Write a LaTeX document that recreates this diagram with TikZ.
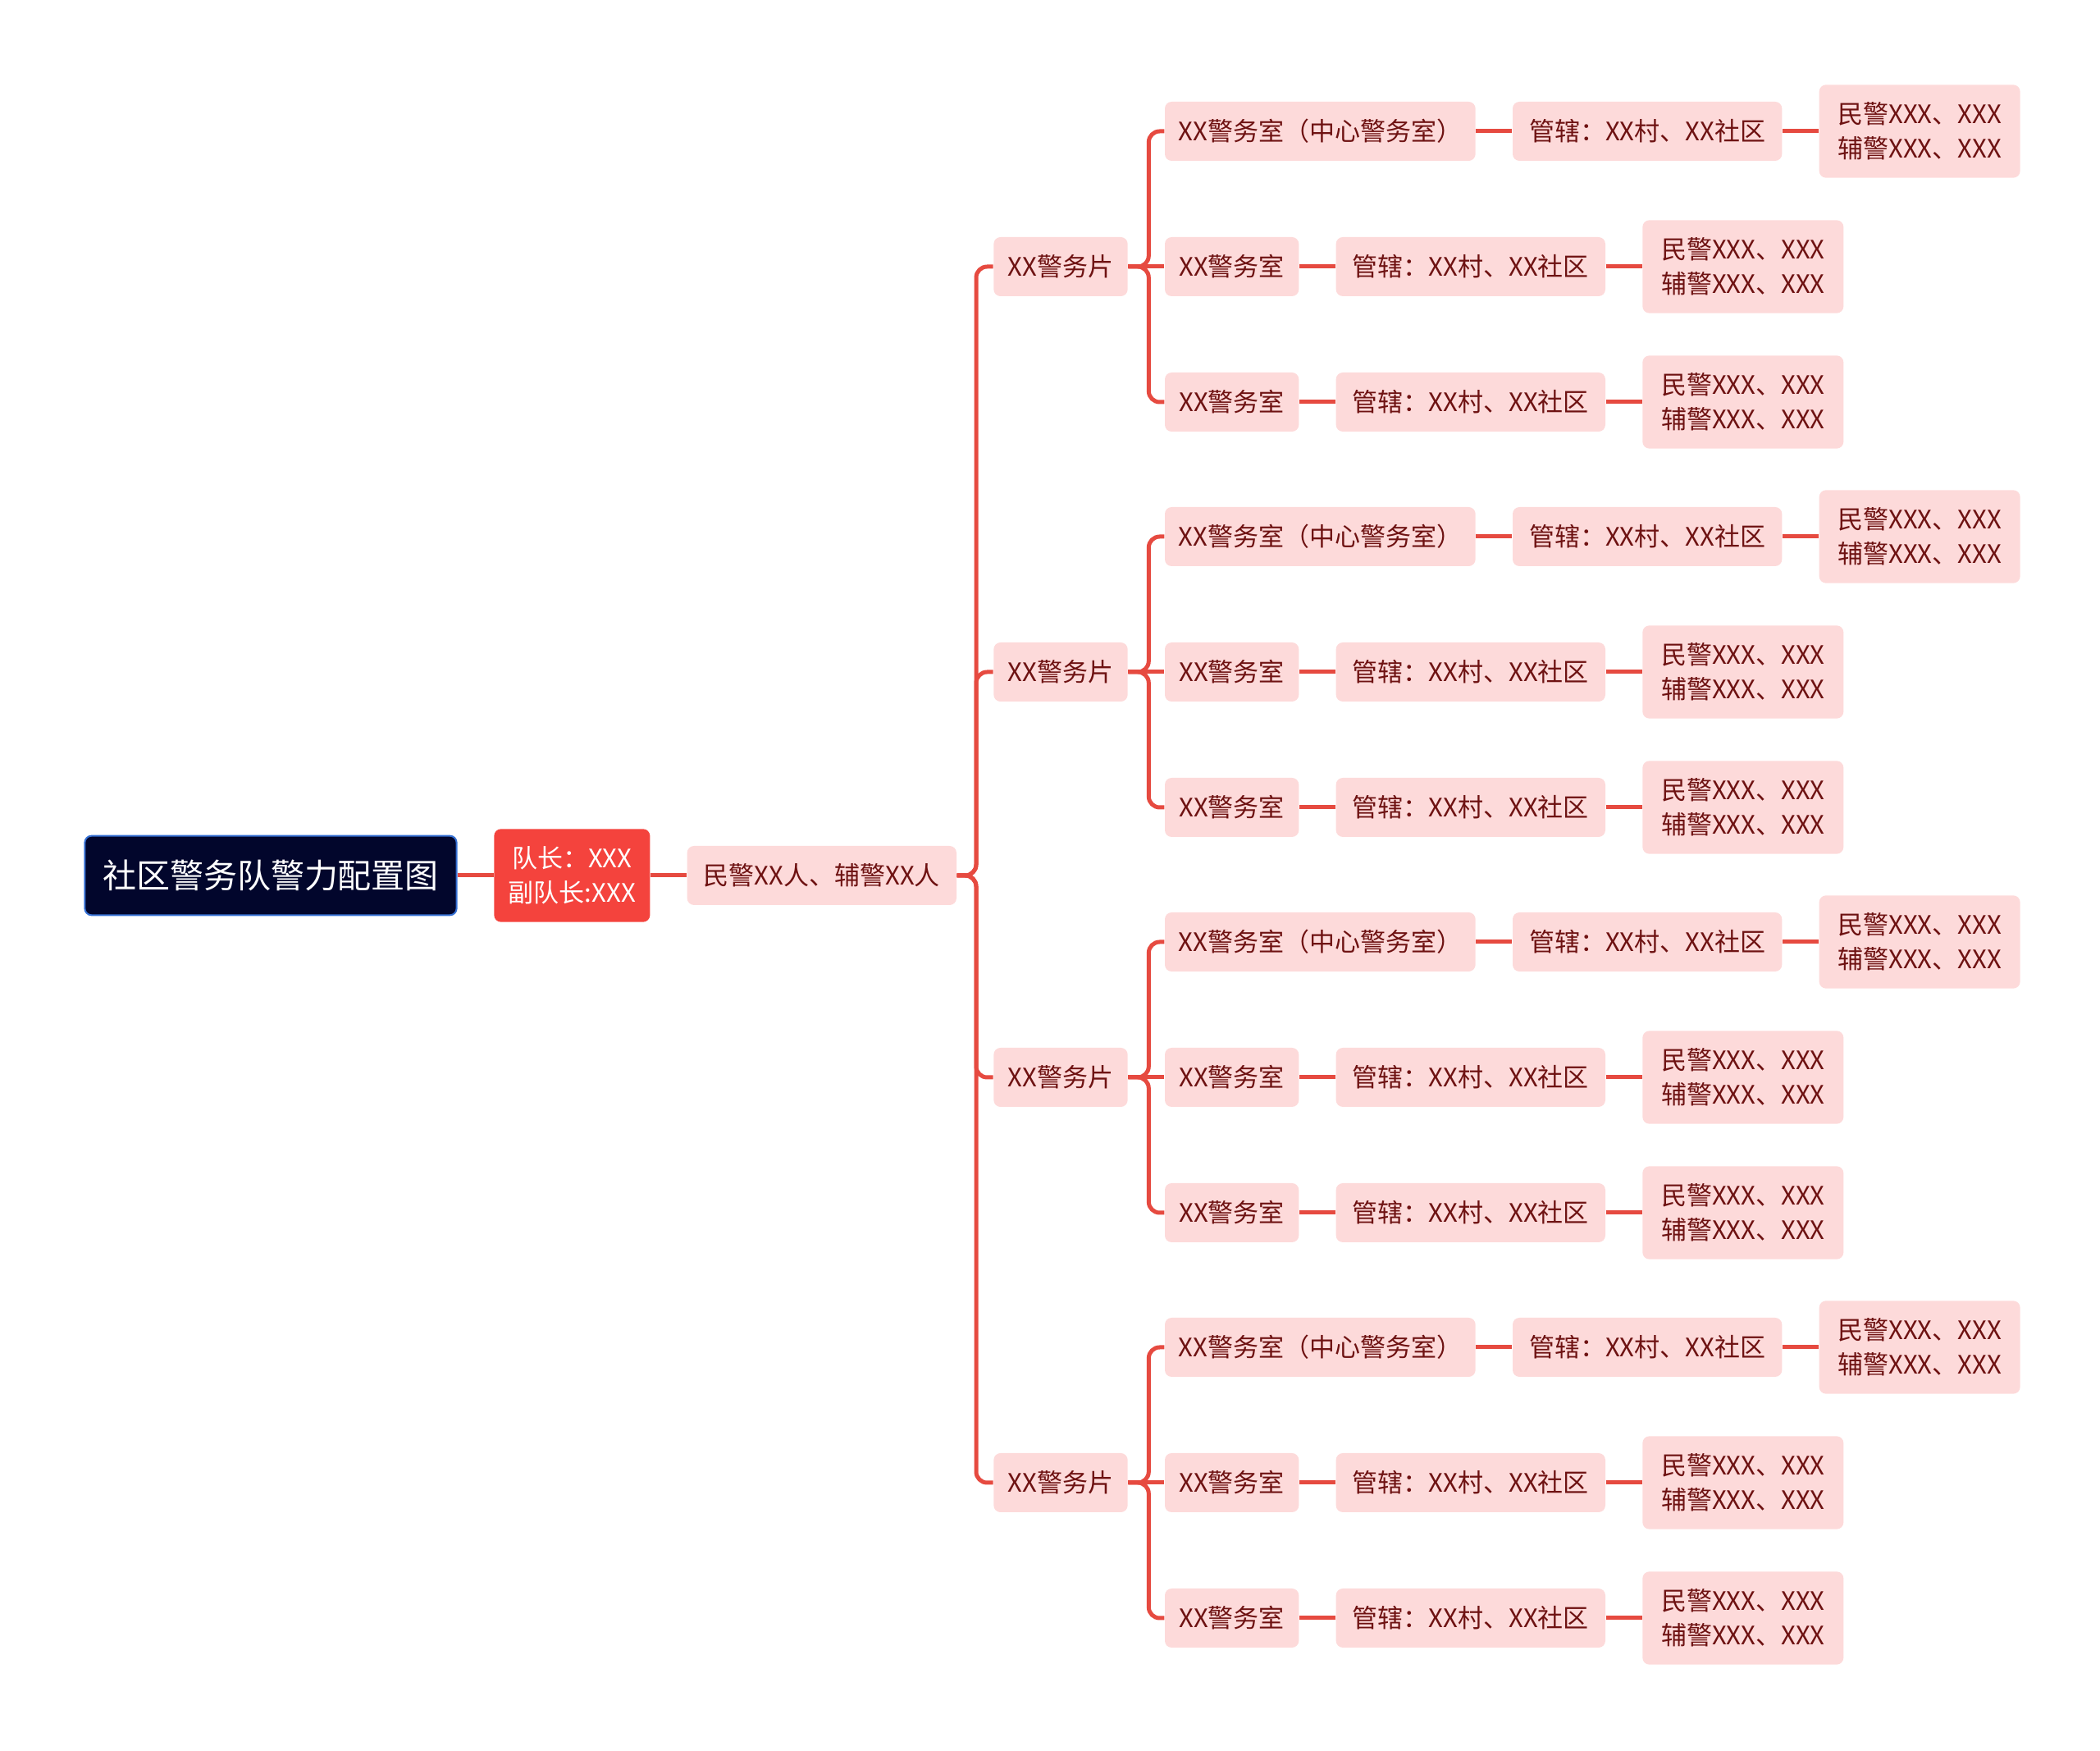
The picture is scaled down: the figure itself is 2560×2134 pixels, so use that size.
\documentclass[tikz,border=0pt]{standalone}
\usepackage{fontspec}
\setmainfont{Noto Sans CJK SC}
\usetikzlibrary{positioning}
\definecolor{mmNavy}{HTML}{02062C}
\definecolor{mmBlue}{HTML}{3570D4}
\definecolor{mmRed}{HTML}{F4433D}
\definecolor{mmPink}{HTML}{FDDADA}
\definecolor{mmText}{HTML}{6E1212}
\definecolor{mmLine}{HTML}{E64A40}
\tikzset{
  mmnode/.style={
    rounded corners=2.5pt, inner sep=1pt, align=center,
    font=\fontsize{9.3}{12.6}\selectfont
  },
  rootbox/.style={mmnode, fill=mmNavy, draw=mmBlue, line width=0.6pt, text=white,
    minimum width=136pt, minimum height=29pt, font=\fontsize{12.3}{14}\selectfont},
  leadbox/.style={mmnode, fill=mmRed, text=white, minimum width=57pt, minimum height=34pt},
  pinkbox/.style={mmnode, fill=mmPink, text=mmText, minimum height=21.6pt},
  areabox/.style={pinkbox, minimum width=49pt},
  officebox/.style={pinkbox, minimum width=49pt},
  jurbox/.style={pinkbox, minimum width=98.5pt},
  detailbox/.style={pinkbox, minimum width=73.5pt, minimum height=34pt},
  link/.style={mmLine, line width=1.5pt},
  branch/.style={link, rounded corners=4pt}
}
\begin{document}
\begin{tikzpicture}[x=0.3pt, y=-0.3pt, node distance=13.2pt]
  \useasboundingbox (0,0) rectangle (2560,2134);
  \node[rootbox] (root) at (330,1067) {社区警务队警力配置图};
  \node[leadbox, right=of root] (lead) {队长：XXX\\副队长:XXX};
  \node[jurbox, right=of lead] (staff) {民警XX人、辅警XX人};
  \draw[link] (root) -- (lead);
  \draw[link] (lead) -- (staff);
  \foreach \a/\dy in {1/222.6, 2/74.4, 3/-73.8, 4/-222}{
    \node[areabox, right=of staff, yshift=\dy pt] (a\a) {XX警务片};
    \draw[branch] (staff.east) -- ++(7pt,0) |- (a\a.west);
    % one centre office and two plain ones per area
    \node[officebox, minimum width=113.6pt, right=of a\a, yshift=49.5pt] (o\a1) {XX警务室（中心警务室）};
    \node[officebox, right=of a\a] (o\a2) {XX警务室};
    \node[officebox, right=of a\a, yshift=-49.5pt] (o\a3) {XX警务室};
    \draw[link] (a\a) -- (o\a2);
    \foreach \o in {1,3}{
      \draw[branch] (a\a.east) -- ++(7.5pt,0) |- (o\a\o.west);
    }
    \foreach \o in {1,2,3}{
      \node[jurbox, right=of o\a\o] (j\a\o) {管辖：XX村、XX社区};
      \node[detailbox, right=of j\a\o] (d\a\o) {民警XXX、XXX\\辅警XXX、XXX};
      \draw[link] (o\a\o) -- (j\a\o);
      \draw[link] (j\a\o) -- (d\a\o);
    }
  }
\end{tikzpicture}
\end{document}
